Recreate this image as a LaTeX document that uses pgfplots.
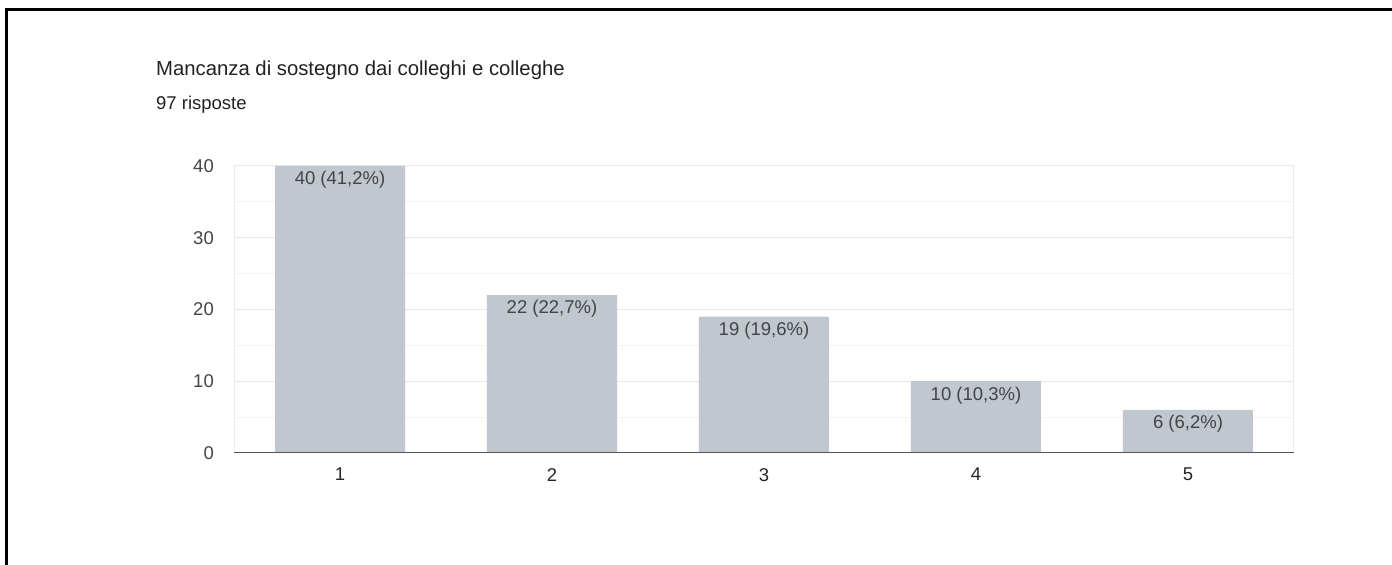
\documentclass[border=0pt]{standalone}
\usepackage{pgfplots}
\pgfplotsset{compat=1.18}
\usepackage{fontspec}
\setmainfont{Liberation Sans}
\definecolor{barc}{HTML}{C0C7CE}
\definecolor{titlec}{HTML}{202124}
\definecolor{tickc}{HTML}{444444}
\definecolor{gridc}{HTML}{E6E6E6}
\definecolor{mgridc}{HTML}{F3F3F3}
\definecolor{basec}{HTML}{555555}
\begin{document}
\begin{tikzpicture}[x=1bp,y=1bp]
\path[use as bounding box] (0,0) rectangle (1392,565);
\draw[line width=3bp] (6,0) -- (6,555) -- (1392,555);
\node[anchor=base west, inner sep=0pt, text=titlec, font=\fontsize{20.3bp}{24bp}\selectfont] at (156,489) {Mancanza di sostegno dai colleghi e colleghe};
\node[anchor=base west, inner sep=0pt, text=titlec, font=\fontsize{18.5bp}{22bp}\selectfont] at (156,455) {97 risposte};
\begin{axis}[
  at={(234bp,112bp)}, anchor=south west,
  scale only axis, width=1060bp, height=287bp,
  xmin=0.5, xmax=5.5, ymin=0, ymax=40,
  ybar, bar width=130bp,
  xtick={1,2,3,4,5}, ytick={0,10,20,30,40},
  minor ytick={5,15,25,35},
  ymajorgrids, yminorgrids,
  major grid style={draw=gridc, line width=1bp},
  minor grid style={draw=mgridc, line width=1bp},
  major tick length=0pt, minor tick length=0pt,
  axis line style={draw=black!8, line width=1bp},
  /pgf/number format/assume math mode=true,
  tick label style={text=tickc, font=\fontsize{18.5bp}{22bp}\selectfont},
  xticklabel style={inner sep=0pt, anchor=north, yshift=-15bp, text=black!85},
  yticklabel style={inner sep=0pt, anchor=east, xshift=-20bp},
  nodes near coords,
  point meta=explicit symbolic,
  every node near coord/.append style={anchor=center, yshift=-14bp, text=tickc, font=\fontsize{18.5bp}{22bp}\selectfont},
]
\addplot[fill=barc, draw=none] coordinates {
  (1,40) [40 (41,2\%)]
  (2,22) [22 (22,7\%)]
  (3,19) [19 (19,6\%)]
  (4,10) [10 (10,3\%)]
  (5,6)  [6 (6,2\%)]
};
\draw[basec, line width=2bp] (axis cs:0.5,0) -- (axis cs:5.5,0);
\end{axis}
\end{tikzpicture}
\end{document}
